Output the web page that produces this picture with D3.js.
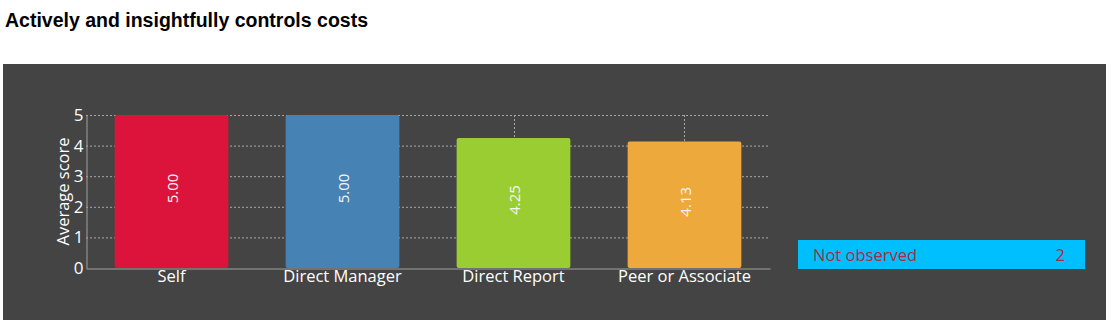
<!DOCTYPE html>
<html>
<head>
<meta charset="utf-8">
<script src="https://cdn.jsdelivr.net/npm/d3@7"></script>
<style>
  html, body { margin: 0; padding: 0; background: #fff; }
  svg { display: block; }
</style>
</head>
<body>
<svg id="chart" width="1113" height="328"></svg>
<script>
// Rater groups and their average scores
const categories = ["Self", "Direct Manager", "Direct Report", "Peer or Associate"];
const scores = [5.00, 5.00, 4.25, 4.13];
const barColors = ["#dc143c", "#4682b4", "#9acd32", "#eea93c"];
const yTicks = [0, 1, 2, 3, 4, 5];
const notObservedLabel = ["Not observed"];
const notObservedCount = [2];

const svg = d3.select("#chart");
const labelFont = "'Open Sans', 'Noto Sans', sans-serif";

// Title
svg.append("text")
  .attr("x", 5).attr("y", 27)
  .attr("font-family", "'Liberation Sans', Arial, sans-serif")
  .attr("font-weight", "bold")
  .attr("font-size", 19.5)
  .attr("fill", "#000")
  .text("Actively and insightfully controls costs");

// Dark panel
svg.append("rect")
  .attr("x", 3).attr("y", 64)
  .attr("width", 1103).attr("height", 256)
  .attr("fill", "#444444");

const plot = { left: 86, right: 770, top: 115, bottom: 268 };

const x = d3.scaleBand()
  .domain(categories)
  .range([plot.left, plot.right])
  .paddingInner(0.335)
  .paddingOuter(0.1675);

const y = d3.scaleLinear()
  .domain([0, 5])
  .range([plot.bottom, plot.top]);

const g = svg.append("g");

// Horizontal grid lines
g.append("g")
  .selectAll("line")
  .data(yTicks.filter(d => d > 0))
  .join("line")
  .attr("x1", plot.left).attr("x2", plot.right)
  .attr("y1", d => y(d) + 0.5).attr("y2", d => y(d) + 0.5)
  .attr("stroke", "#a8a8a8")
  .attr("stroke-width", 1)
  .attr("stroke-dasharray", "2,2");

// Vertical grid lines at category centers
g.append("g")
  .selectAll("line")
  .data(categories)
  .join("line")
  .attr("x1", d => Math.round(x(d) + x.bandwidth() / 2) + 0.5)
  .attr("x2", d => Math.round(x(d) + x.bandwidth() / 2) + 0.5)
  .attr("y1", plot.top).attr("y2", plot.bottom)
  .attr("stroke", "#a8a8a8")
  .attr("stroke-width", 1)
  .attr("stroke-dasharray", "2,2");

// Bars
g.append("g")
  .selectAll("rect")
  .data(categories)
  .join("rect")
  .attr("x", d => x(d))
  .attr("y", (d, i) => y(scores[i]))
  .attr("width", x.bandwidth())
  .attr("height", (d, i) => y(0) - y(scores[i]))
  .attr("rx", 2).attr("ry", 2)
  .attr("fill", (d, i) => barColors[i]);

// Value labels, rotated inside bars
g.append("g")
  .selectAll("text")
  .data(categories)
  .join("text")
  .attr("transform", (d, i) => {
    const cx = x(d) + x.bandwidth() / 2;
    const cy = (y(scores[i]) + y(0)) / 2 - 3;
    return `translate(${cx},${cy}) rotate(-90)`;
  })
  .attr("text-anchor", "middle")
  .attr("dominant-baseline", "central")
  .attr("font-family", labelFont)
  .attr("font-size", 15)
  .attr("fill", "#f4f4f4")
  .text((d, i) => scores[i].toFixed(2));

// Y axis
const yAxis = d3.axisLeft(y).tickValues(yTicks).tickFormat(d3.format("d")).tickSize(0).tickPadding(3);
const yAxisG = g.append("g")
  .attr("transform", `translate(${plot.left + 0.5},0)`)
  .call(yAxis);
yAxisG.select(".domain").attr("stroke", "#a0a0a0");
yAxisG.selectAll("text")
  .attr("font-family", labelFont)
  .attr("font-size", 17)
  .attr("fill", "#ffffff");

// X axis
const xAxis = d3.axisBottom(x).tickSize(0).tickPadding(2);
const xAxisG = g.append("g")
  .attr("transform", `translate(0,${plot.bottom + 0.5})`)
  .call(xAxis);
xAxisG.select(".domain").attr("stroke", "#a0a0a0");
xAxisG.selectAll("text")
  .attr("font-family", labelFont)
  .attr("font-size", 16.5)
  .attr("fill", "#ffffff");

// Y axis title
svg.append("text")
  .attr("transform", `translate(62,${(plot.top + plot.bottom) / 2}) rotate(-90)`)
  .attr("text-anchor", "middle")
  .attr("dominant-baseline", "central")
  .attr("font-family", labelFont)
  .attr("font-size", 16.5)
  .attr("fill", "#ffffff")
  .text("Average score");

// Not observed box
const legend = svg.append("g").attr("transform", "translate(798,240)");
legend.append("rect")
  .attr("width", 287).attr("height", 29)
  .attr("fill", "#00bfff");
legend.selectAll("text.label")
  .data(notObservedLabel)
  .join("text")
  .attr("class", "label")
  .attr("x", 15).attr("y", 20.5)
  .attr("font-family", labelFont)
  .attr("font-size", 16.5)
  .attr("fill", "#b0283f")
  .text(d => d);
legend.selectAll("text.count")
  .data(notObservedCount)
  .join("text")
  .attr("class", "count")
  .attr("x", 267).attr("y", 20.5)
  .attr("text-anchor", "end")
  .attr("font-family", labelFont)
  .attr("font-size", 16.5)
  .attr("fill", "#b0283f")
  .text(d => d);
</script>
</body>
</html>
